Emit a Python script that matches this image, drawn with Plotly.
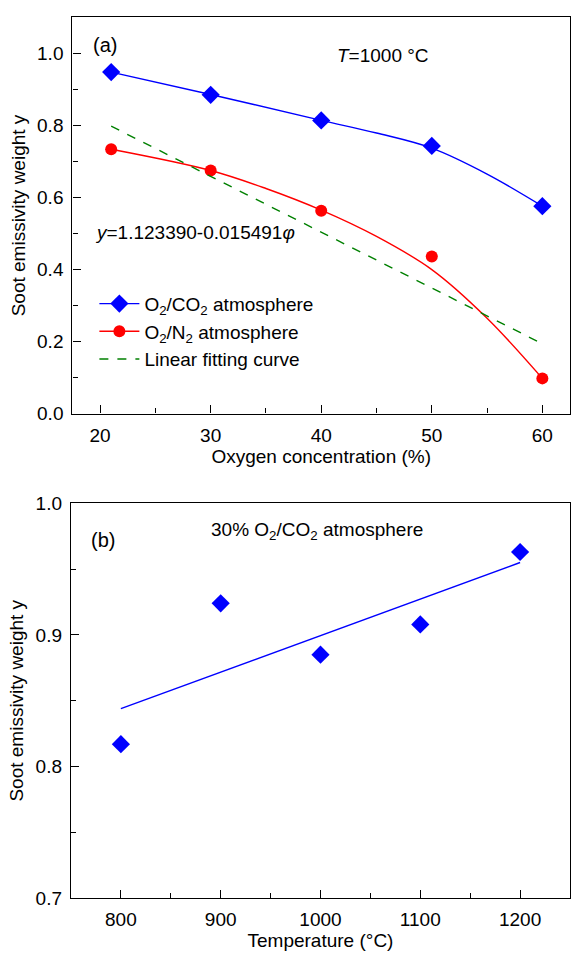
import plotly.graph_objects as go

# ---- Panel (a) data ----
oxygen = [21, 30, 40, 50, 60]
co2_y = [0.948, 0.885, 0.814, 0.743, 0.576]
n2_y = [0.734, 0.675, 0.563, 0.436, 0.098]

# smooth fitted curves
co2_fit_x = [21, 30, 40, 45, 50, 55, 60]
co2_fit_y = [0.948, 0.886, 0.814, 0.779, 0.737, 0.665, 0.576]
n2_fit_x = [21, 30, 35, 40, 45, 50, 55, 60]
n2_fit_y = [0.734, 0.675, 0.625, 0.565, 0.492, 0.400, 0.265, 0.098]

lin_x = [21, 60]
lin_y = [0.798, 0.194]

# ---- Panel (b) data ----
temperature = [800, 900, 1000, 1100, 1200]
temp_y = [0.817, 0.924, 0.885, 0.908, 0.963]
temp_fit_x = [800, 1200]
temp_fit_y = [0.844, 0.955]

FONT = "Liberation Sans, Arial, sans-serif"
FS = 19
BLUE = "#0000FF"
RED = "#FF0000"
GREEN = "#008000"

fig = go.Figure()

# Panel a curves
fig.add_trace(go.Scatter(x=co2_fit_x, y=co2_fit_y, mode="lines", line=dict(color=BLUE, width=1.4, shape="spline"),
                         showlegend=False, xaxis="x", yaxis="y"))
fig.add_trace(go.Scatter(x=n2_fit_x, y=n2_fit_y, mode="lines", line=dict(color=RED, width=1.4, shape="spline"),
                         showlegend=False, xaxis="x", yaxis="y"))
fig.add_trace(go.Scatter(x=oxygen, y=co2_y, mode="markers", name="O<sub>2</sub>/CO<sub>2</sub> atmosphere",
                         marker=dict(symbol="diamond", size=14, color=BLUE), xaxis="x", yaxis="y", showlegend=False))
fig.add_trace(go.Scatter(x=oxygen, y=n2_y, mode="markers", name="O<sub>2</sub>/N<sub>2</sub> atmosphere",
                         marker=dict(symbol="circle", size=12, color=RED), xaxis="x", yaxis="y", showlegend=False))
# legend entries
fig.add_trace(go.Scatter(x=[None], y=[None], mode="markers+lines", name="O<sub>2</sub>/CO<sub>2</sub> atmosphere",
                         marker=dict(symbol="diamond", size=14, color=BLUE), line=dict(color=BLUE, width=1.4),
                         xaxis="x", yaxis="y"))
fig.add_trace(go.Scatter(x=[None], y=[None], mode="markers+lines", name="O<sub>2</sub>/N<sub>2</sub> atmosphere",
                         marker=dict(symbol="circle", size=12, color=RED), line=dict(color=RED, width=1.4),
                         xaxis="x", yaxis="y"))
fig.add_trace(go.Scatter(x=lin_x, y=lin_y, mode="lines", name="Linear fitting curve",
                         line=dict(color=GREEN, width=1.4, dash="dash"), xaxis="x", yaxis="y"))

# Panel b
fig.add_trace(go.Scatter(x=temp_fit_x, y=temp_fit_y, mode="lines", line=dict(color=BLUE, width=1.4),
                         showlegend=False, xaxis="x2", yaxis="y2"))
fig.add_trace(go.Scatter(x=temperature, y=temp_y, mode="markers", marker=dict(symbol="diamond", size=14, color=BLUE),
                         showlegend=False, xaxis="x2", yaxis="y2"))

axis_common = dict(showline=True, linecolor="black", linewidth=1.4, mirror=True, ticks="inside", ticklen=8,
                   tickwidth=1.2, tickcolor="black", showgrid=False, zeroline=False,
                   tickfont=dict(family=FONT, size=FS, color="black"))

fig.update_layout(
    width=572, height=962, margin=dict(l=0, r=0, t=0, b=0),
    paper_bgcolor="white", plot_bgcolor="white",
    font=dict(family=FONT, size=FS, color="black"),
    xaxis=dict(domain=[0.1267, 0.9965], range=[17.5, 62.5], dtick=10, tick0=0,
               minor=dict(ticks="inside", ticklen=5, dtick=5, tickcolor="black", tickwidth=1.2),
               title=dict(text="Oxygen concentration (%)", font=dict(family=FONT, size=FS), standoff=3),
               ticklabelstandoff=4,
               anchor="y", **axis_common),
    yaxis=dict(domain=[0.571, 0.9922], range=[0, 1.1], dtick=0.2, tick0=0, tickformat=".1f",
               minor=dict(ticks="inside", ticklen=5, dtick=0.1, tickcolor="black", tickwidth=1.2),
               title=dict(text="Soot emissivity weight y", font=dict(family=FONT, size=FS), standoff=6),
               ticklabelstandoff=4,
               anchor="x", **axis_common),
    xaxis2=dict(domain=[0.1241, 0.9965], range=[750, 1250], dtick=100, tick0=0,
                minor=dict(ticks="inside", ticklen=5, dtick=50, tickcolor="black", tickwidth=1.2),
                title=dict(text="Temperature (°C)", font=dict(family=FONT, size=FS), standoff=3),
                ticklabelstandoff=4,
                anchor="y2", **axis_common),
    yaxis2=dict(domain=[0.0561, 0.4758], range=[0.7, 1.0], dtick=0.1, tick0=0, tickformat=".1f",
                minor=dict(ticks="inside", ticklen=5, dtick=0.05, tickcolor="black", tickwidth=1.2),
                title=dict(text="Soot emissivity weight y", font=dict(family=FONT, size=FS), standoff=6),
                ticklabelstandoff=4,
                anchor="x2", **axis_common),
    legend=dict(x=0.165, y=0.708, xanchor="left", yanchor="top", bgcolor="rgba(0,0,0,0)",
                font=dict(family=FONT, size=FS), tracegroupgap=0, itemwidth=40),
    annotations=[
        dict(text="(a)", x=105 / 572, y=1 - 36 / 962, xref="paper", yref="paper", showarrow=False,
             xanchor="center", yanchor="middle", font=dict(family=FONT, size=FS + 1)),
        dict(text="<i>T</i>=1000 °C", x=335 / 572, y=1 - 47 / 962, xref="paper", yref="paper", showarrow=False,
             xanchor="left", yanchor="middle", font=dict(family=FONT, size=FS)),
        dict(text="<i>y</i>=1.123390-0.015491<i>φ</i>", x=93 / 572, y=1 - 227 / 962, xref="paper", yref="paper",
             showarrow=False, xanchor="left", yanchor="middle", font=dict(family=FONT, size=FS)),
        dict(text="(b)", x=103 / 572, y=1 - 542 / 962, xref="paper", yref="paper", showarrow=False,
             xanchor="center", yanchor="middle", font=dict(family=FONT, size=FS + 1)),
        dict(text="30% O<sub>2</sub>/CO<sub>2</sub> atmosphere", x=209 / 572, y=1 - 533 / 962, xref="paper",
             yref="paper", showarrow=False, xanchor="left", yanchor="middle", font=dict(family=FONT, size=FS)),
    ],
)

fig.write_html("out.html")
